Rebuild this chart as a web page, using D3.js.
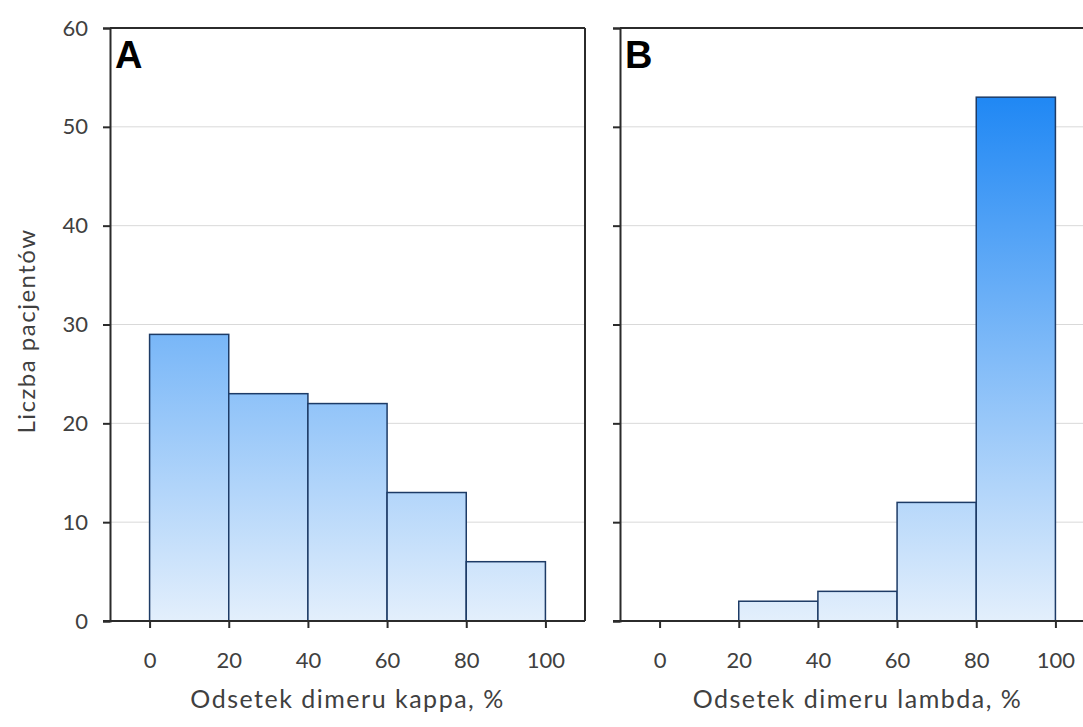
<!DOCTYPE html>
<html>
<head>
<meta charset="utf-8">
<script src="https://cdn.jsdelivr.net/npm/d3@7"></script>
<style>
  html, body { margin: 0; padding: 0; background: #ffffff; }
  svg { display: block; }
  text { font-family: Lato, "Open Sans", sans-serif; fill: #404040; }
</style>
</head>
<body>
<svg id="chart" width="1083" height="727"></svg>
<script>
// Histogram bins (percent of dimer) and patient counts per bin
const binEdges = [0, 20, 40, 60, 80, 100];
const kappaCounts = [29, 23, 22, 13, 6];
const lambdaCounts = [0, 2, 3, 12, 53];
const yTickValues = [0, 10, 20, 30, 40, 50, 60];
const xTickValues = [0, 20, 40, 60, 80, 100];
const panelLetters = ["A", "B"];
const xTitles = ["Odsetek dimeru kappa, %", "Odsetek dimeru lambda, %"];
const yTitle = "Liczba pacjentów";

const svg = d3.select("#chart");

const plotTop = 28, plotBottom = 621;
const panels = [
  { left: 110, right: 585, counts: kappaCounts, letter: panelLetters[0], title: xTitles[0], labels: true },
  { left: 620, right: 1095, counts: lambdaCounts, letter: panelLetters[1], title: xTitles[1], labels: false }
];

const y = d3.scaleLinear().domain([0, 60]).range([plotBottom, plotTop]);

// vertical blue gradient spanning the full value range
const defs = svg.append("defs");
const grad = defs.append("linearGradient")
  .attr("id", "barFill")
  .attr("gradientUnits", "userSpaceOnUse")
  .attr("x1", 0).attr("x2", 0)
  .attr("y1", y(60)).attr("y2", y(0));
grad.append("stop").attr("offset", "0%").attr("stop-color", "#067af3");
grad.append("stop").attr("offset", "100%").attr("stop-color", "#e3effc");

const axisColor = "#2b2b2b";

panels.forEach(p => {
  const x = d3.scaleLinear().domain([-10, 110]).range([p.left, p.right]);
  const g = svg.append("g");

  // horizontal gridlines
  g.selectAll("line.grid")
    .data(yTickValues.filter(v => v > 0 && v < 60))
    .join("line")
    .attr("class", "grid")
    .attr("x1", p.left).attr("x2", p.right)
    .attr("y1", d => y(d)).attr("y2", d => y(d))
    .attr("stroke", "#d9d9d9").attr("stroke-width", 1);

  // histogram bars
  const bins = p.counts.map((c, i) => ({ x0: binEdges[i], x1: binEdges[i + 1], n: c }));
  g.selectAll("rect.bar")
    .data(bins.filter(b => b.n > 0))
    .join("rect")
    .attr("class", "bar")
    .attr("x", d => x(d.x0))
    .attr("width", d => x(d.x1) - x(d.x0))
    .attr("y", d => y(d.n))
    .attr("height", d => y(0) - y(d.n))
    .attr("fill", "url(#barFill)")
    .attr("stroke", "#1d3b66")
    .attr("stroke-width", 1.5);

  // frame: top and right borders
  g.append("line")
    .attr("x1", p.left).attr("x2", p.right)
    .attr("y1", plotTop).attr("y2", plotTop)
    .attr("stroke", axisColor).attr("stroke-width", 2);
  g.append("line")
    .attr("x1", p.right).attr("x2", p.right)
    .attr("y1", plotTop).attr("y2", plotBottom)
    .attr("stroke", axisColor).attr("stroke-width", 2);

  // y axis
  const yAxis = d3.axisLeft(y).tickValues(yTickValues).tickSize(7).tickPadding(15)
    .tickFormat(p.labels ? d3.format("d") : () => "");
  const ya = g.append("g").attr("transform", `translate(${p.left},0)`).call(yAxis);
  ya.select(".domain").attr("stroke", axisColor).attr("stroke-width", 2);
  ya.selectAll(".tick line").attr("stroke", axisColor).attr("stroke-width", 2);
  ya.selectAll(".tick text").attr("font-size", 22).attr("fill", "#404040")
    .style("font-family", "Lato, sans-serif");

  // x axis
  const xAxis = d3.axisBottom(x).tickValues(xTickValues).tickSize(7).tickPadding(24)
    .tickFormat(d3.format("d"));
  const xa = g.append("g").attr("transform", `translate(0,${plotBottom})`).call(xAxis);
  xa.select(".domain").remove();
  xa.append("line")
    .attr("x1", p.left - 7).attr("x2", p.right)
    .attr("y1", 0).attr("y2", 0)
    .attr("stroke", axisColor).attr("stroke-width", 2);
  xa.selectAll(".tick line").attr("stroke", axisColor).attr("stroke-width", 2);
  xa.selectAll(".tick text").attr("font-size", 22).attr("fill", "#404040")
    .style("font-family", "Lato, sans-serif");

  // x axis title
  g.append("text")
    .attr("x", (p.left + p.right) / 2)
    .attr("y", 708)
    .attr("text-anchor", "middle")
    .attr("font-size", 25)
    .attr("letter-spacing", 1.5)
    .text(p.title);

  // panel letter
  g.append("text")
    .attr("x", p.left + 5)
    .attr("y", 68)
    .attr("font-size", 38)
    .attr("font-weight", "bold")
    .style("font-family", "'Liberation Sans', Arial, sans-serif")
    .style("fill", "#000")
    .text(p.letter);
});

// shared y axis title
svg.append("text")
  .attr("transform", `translate(35,331) rotate(-90)`)
  .attr("text-anchor", "middle")
  .attr("font-size", 24)
  .attr("letter-spacing", 1.5)
  .text(yTitle);
</script>
</body>
</html>
